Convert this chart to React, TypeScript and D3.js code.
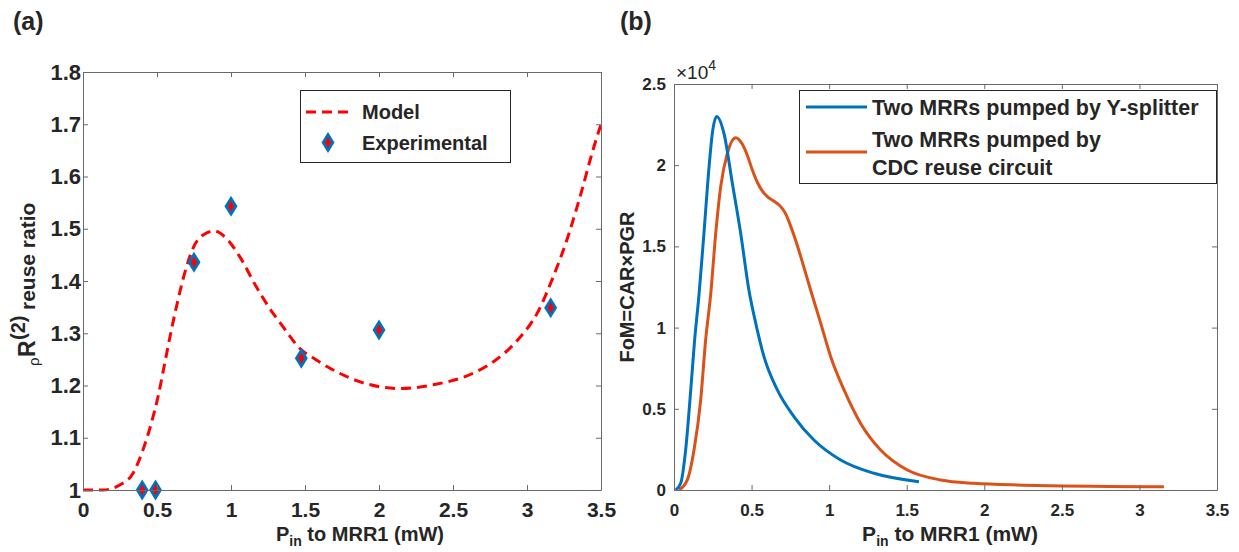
import React, { useEffect, useRef } from 'react';
import * as d3 from 'd3';

const W = 1239;
const H = 552;

// (a) model curve and measured points
const modelX = [0, 0.135, 0.248, 0.338, 0.405, 0.462, 0.507, 0.552, 0.597, 0.642, 0.687, 0.743, 0.811, 0.89, 0.968, 1.059, 1.171, 1.261, 1.351, 1.464, 1.577, 1.712, 1.869, 2.027, 2.136, 2.377, 2.59, 2.78, 2.94, 3.07, 3.18, 3.285, 3.365, 3.445, 3.5];
const modelY = [1.0, 1.0, 1.0096, 1.032, 1.0766, 1.128, 1.1786, 1.242, 1.306, 1.364, 1.415, 1.4626, 1.488, 1.4957, 1.4817, 1.4466, 1.389, 1.3477, 1.3126, 1.2712, 1.2488, 1.2265, 1.2073, 1.1966, 1.194, 1.202, 1.218, 1.247, 1.288, 1.339, 1.41, 1.492, 1.568, 1.65, 1.7];
const expX = [0.4, 0.49, 0.75, 1.0, 1.475, 2.0, 3.16];
const expY = [1.0, 1.0, 1.436, 1.543, 1.252, 1.306, 1.349];
const xTicksA = [0, 0.5, 1, 1.5, 2, 2.5, 3, 3.5];
const yTicksA = [1, 1.1, 1.2, 1.3, 1.4, 1.5, 1.6, 1.7, 1.8];

// (b) FoM, in units of 1e4
const ysplitX = [0.011, 0.043, 0.075, 0.108, 0.133, 0.161, 0.193, 0.226, 0.247, 0.275, 0.322, 0.376, 0.43, 0.483, 0.527, 0.58, 0.666, 0.774, 0.902, 1.074, 1.289, 1.579];
const ysplitY = [0, 0.041, 0.246, 0.616, 0.924, 1.2, 1.58, 1.99, 2.196, 2.3, 2.196, 1.889, 1.58, 1.23, 1.026, 0.821, 0.616, 0.451, 0.308, 0.185, 0.103, 0.051];
const cdcX = [0.032, 0.086, 0.129, 0.172, 0.204, 0.236, 0.269, 0.301, 0.344, 0.398, 0.44, 0.473, 0.505, 0.537, 0.57, 0.602, 0.645, 0.688, 0.72, 0.752, 0.785, 0.817, 0.85, 0.881, 0.946, 1.01, 1.096, 1.203, 1.332, 1.504, 1.719, 1.934, 2.25, 2.505, 2.8, 3.158];
const cdcY = [0, 0.062, 0.246, 0.554, 0.924, 1.2, 1.58, 1.868, 2.073, 2.169, 2.13, 2.06, 1.97, 1.895, 1.84, 1.806, 1.778, 1.745, 1.7, 1.625, 1.535, 1.437, 1.33, 1.23, 1.026, 0.821, 0.616, 0.41, 0.246, 0.123, 0.062, 0.041, 0.03, 0.025, 0.022, 0.02];
const xTicksB = [0, 0.5, 1, 1.5, 2, 2.5, 3, 3.5];
const yTicksB = [0, 0.5, 1, 1.5, 2, 2.5];

const legendA = ['Model', 'Experimental'];
const legendB = ['Two MRRs pumped by Y-splitter', 'Two MRRs pumped by', 'CDC reuse circuit'];

const FONT = '"Liberation Sans", Arial, Helvetica, sans-serif';
const BLUE = '#0072BD';
const ORANGE = '#D95319';
const RED = '#FF0000';
const AXIS = '#6a6a6a';
const TEXT = '#262626';

const fmt = (d: any) => String(+(+d).toFixed(2));

function drawAxes(g: any, x: any, y: any, xTicks: number[], yTicks: number[], o: any) {
    const [x0, x1] = x.range();
    const [y0, y1] = y.range();
    const style = (sel: any, size: number) => {
        sel.attr('color', AXIS)
            .attr('font-family', FONT)
            .attr('font-weight', 'bold')
            .attr('font-size', size);
        sel.selectAll('text').attr('fill', TEXT);
    };
    g.append('g')
        .attr('transform', `translate(0,${y0})`)
        .call(d3.axisBottom(x).tickValues(xTicks).tickSize(-5).tickSizeOuter(0).tickPadding(o.xPad).tickFormat(fmt))
        .call((s: any) => style(s, o.xFont));
    g.append('g')
        .attr('transform', `translate(0,${y1})`)
        .call(d3.axisTop(x).tickValues(xTicks).tickSize(-5).tickSizeOuter(0).tickFormat(() => ''))
        .call((s: any) => style(s, 10));
    g.append('g')
        .attr('transform', `translate(${x0},0)`)
        .call(d3.axisLeft(y).tickValues(yTicks).tickSize(-5).tickSizeOuter(0).tickPadding(o.yPad).tickFormat(fmt))
        .call((s: any) => style(s, o.yFont));
    g.append('g')
        .attr('transform', `translate(${x1},0)`)
        .call(d3.axisRight(y).tickValues(yTicks).tickSize(-5).tickSizeOuter(0).tickFormat(() => ''))
        .call((s: any) => style(s, 10));
}

function diamond(g: any, cx: number, cy: number) {
    g.append('path')
        .attr('d', `M${cx},${cy - 10.5}L${cx + 6.5},${cy}L${cx},${cy + 10.5}L${cx - 6.5},${cy}Z`)
        .attr('fill', BLUE);
    g.append('path')
        .attr('d', `M${cx},${cy - 5.5}L${cx + 3},${cy}L${cx},${cy + 5.5}L${cx - 3},${cy}Z`)
        .attr('fill', RED);
}

export default function App() {
    const ref = useRef<SVGSVGElement>(null);

    useEffect(() => {
        const svg = d3.select(ref.current);
        svg.selectAll('*').remove();
        const root = svg.append('g').attr('font-family', FONT).attr('fill', TEXT);

        // ---------- panel (a)
        const xa = d3.scaleLinear().domain([0, 3.5]).range([83, 601]);
        const ya = d3.scaleLinear().domain([1, 1.8]).range([490, 72]);
        const ga = root.append('g');

        ga.append('text').attr('x', 13).attr('y', 30)
            .attr('font-size', 25).attr('font-weight', 'bold').text('(a)');

        const model = d3.line<number>()
            .x((d, i) => xa(modelX[i]))
            .y(d => ya(d))
            .curve(d3.curveMonotoneX);
        ga.append('path')
            .attr('d', model(modelY))
            .attr('fill', 'none')
            .attr('stroke', RED)
            .attr('stroke-width', 3)
            .attr('stroke-dasharray', '10,6');

        expX.forEach((v, i) => diamond(ga, xa(v), ya(expY[i])));

        drawAxes(ga, xa, ya, xTicksA, yTicksA, { xFont: 21, xPad: 12, yFont: 22, yPad: 2 });

        // legend (a)
        ga.append('rect').attr('x', 300.5).attr('y', 90.5).attr('width', 210).attr('height', 72)
            .attr('fill', '#fff').attr('stroke', TEXT).attr('stroke-width', 1);
        ga.append('line').attr('x1', 306).attr('x2', 350).attr('y1', 112).attr('y2', 112)
            .attr('stroke', RED).attr('stroke-width', 3).attr('stroke-dasharray', '10,6');
        diamond(ga, 328, 142.5);
        ga.append('text').attr('x', 362).attr('y', 119)
            .attr('font-size', 20).attr('font-weight', 'bold').text(legendA[0]);
        ga.append('text').attr('x', 362).attr('y', 149.5)
            .attr('font-size', 20).attr('font-weight', 'bold').text(legendA[1]);

        // axis labels (a)
        const xla = ga.append('text').attr('x', 360).attr('y', 541)
            .attr('text-anchor', 'middle').attr('font-size', 20).attr('font-weight', 'bold');
        xla.append('tspan').text('P');
        xla.append('tspan').attr('font-size', 14).attr('dy', 5).text('in');
        xla.append('tspan').attr('dy', -5).text(' to MRR1 (mW)');

        const yla = ga.append('g').attr('transform', 'translate(35,366) rotate(-90)')
            .attr('font-weight', 'bold');
        yla.append('text').attr('x', 0).attr('y', 4).attr('font-size', 15)
            .attr('font-weight', 'normal').text('\u03C1');
        yla.append('text').attr('x', 9).attr('y', 0).attr('font-size', 23).text('R');
        yla.append('text').attr('x', 26).attr('y', -10).attr('font-size', 20).text('(2)');
        yla.append('text').attr('x', 56).attr('y', 0).attr('font-size', 21).text('reuse ratio');

        // ---------- panel (b)
        const xb = d3.scaleLinear().domain([0, 3.5]).range([674, 1217]);
        const yb = d3.scaleLinear().domain([0, 2.5]).range([490, 84]);
        const gb = root.append('g');

        gb.append('text').attr('x', 620).attr('y', 30)
            .attr('font-size', 25).attr('font-weight', 'bold').text('(b)');

        const fom = (xs: number[]) => d3.line<number>()
            .x((d, i) => xb(xs[i]))
            .y(d => yb(d))
            .curve(d3.curveMonotoneX);
        gb.append('path').attr('d', fom(cdcX)(cdcY))
            .attr('fill', 'none').attr('stroke', ORANGE).attr('stroke-width', 3);
        gb.append('path').attr('d', fom(ysplitX)(ysplitY))
            .attr('fill', 'none').attr('stroke', BLUE).attr('stroke-width', 3);

        drawAxes(gb, xb, yb, xTicksB, yTicksB, { xFont: 17, xPad: 14, yFont: 17, yPad: 8 });

        const exp = gb.append('text').attr('x', 676).attr('y', 79).attr('font-size', 19);
        exp.append('tspan').text('\u00D710');
        exp.append('tspan').attr('font-size', 14).attr('dy', -9).text('4');

        // legend (b)
        gb.append('rect').attr('x', 799.5).attr('y', 90.5).attr('width', 417).attr('height', 93)
            .attr('fill', '#fff').attr('stroke', TEXT).attr('stroke-width', 1);
        gb.append('line').attr('x1', 806).attr('x2', 867).attr('y1', 107).attr('y2', 107)
            .attr('stroke', BLUE).attr('stroke-width', 3);
        gb.append('line').attr('x1', 806).attr('x2', 867).attr('y1', 152).attr('y2', 152)
            .attr('stroke', ORANGE).attr('stroke-width', 3);
        [115, 146.5, 175].forEach((yy, i) => {
            gb.append('text').attr('x', 872).attr('y', yy)
                .attr('font-size', 21.5).attr('font-weight', 'bold').text(legendB[i]);
        });

        // axis labels (b)
        const xlb = gb.append('text').attr('x', 950).attr('y', 541)
            .attr('text-anchor', 'middle').attr('font-size', 21).attr('font-weight', 'bold');
        xlb.append('tspan').text('P');
        xlb.append('tspan').attr('font-size', 14).attr('dy', 5).text('in');
        xlb.append('tspan').attr('dy', -5).text(' to MRR1 (mW)');

        gb.append('text').attr('transform', 'translate(634,287) rotate(-90)')
            .attr('text-anchor', 'middle').attr('font-size', 20).attr('font-weight', 'bold')
            .text('FoM=CAR\u00D7PGR');
    }, []);

    return (
        <svg ref={ref} width={W} height={H}
            style={{ position: 'absolute', left: 0, top: 0, background: '#fff' }} />
    );
}
